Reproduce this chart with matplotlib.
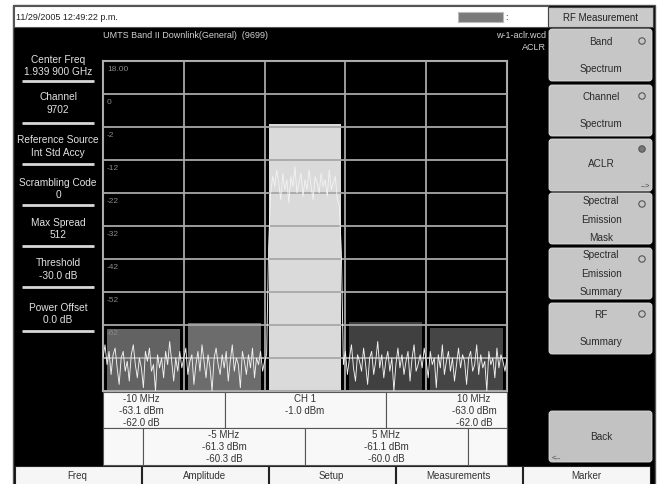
import numpy as np
import matplotlib
matplotlib.use("Agg")
import matplotlib.pyplot as plt
from matplotlib.patches import Rectangle, FancyBboxPatch, Circle

plt.rcParams['font.family'] = ['Liberation Sans', 'DejaVu Sans']

# ---------------- data ----------------
channel_labels = ["-10 MHz", "-5 MHz", "CH 1", "5 MHz", "10 MHz"]
channel_offsets = [-10, -5, 0, 5, 10]
channel_power_dbm = [-63.1, -61.3, -1.0, -61.1, -63.0]
channel_rel_db = [-62.0, -60.3, None, -60.0, -62.0]
bar_colors = ["#626262", "#6c6c6c", "#dadada", "#404040", "#454545"]

y_ticks = [18, 8, -2, -12, -22, -32, -42, -52, -62, -72, -82]
y_tick_labels = ["18.00", "0", "-2", "-12", "-22", "-32", "-42", "-52", "-62", "", ""]

trace_left = [-72, -68, -74, -70, -77, -71, -69, -75, -80, -72, -70, -76, -73, -79, -71, -68, -74, -78, -72, -75,
              -81, -70, -73, -69, -76, -74, -82, -71, -75, -72, -78, -70, -74, -67, -73, -79, -72, -76, -70, -75,
              -72, -69, -77, -73, -71, -80, -74, -70, -76, -68, -73, -78, -71, -75, -82, -72, -69, -74, -77, -71,
              -75, -70, -79, -73, -68, -76, -72, -74, -81, -70, -73, -77, -71, -75, -69, -78, -72, -74, -70, -76,
              -73, -71]
trace_center = [-38, -22, -17, -20, -15, -19, -24, -16, -21, -18, -25, -17, -20, -14, -22, -19, -16, -23, -18, -21,
                -15, -20, -24, -17, -19, -22, -16, -20, -18, -23, -15, -21, -19, -17, -24, -26, -40]
trace_right = [-74, -70, -77, -72, -68, -75, -79, -71, -73, -76, -69, -74, -80, -72, -70, -77, -73, -67, -75, -71,
               -78, -73, -70, -76, -72, -82, -74, -69, -75, -71, -77, -73, -70, -79, -72, -68, -76, -74, -71, -75,
               -69, -73, -78, -70, -74, -72, -81, -71, -75, -68, -77, -73, -70, -76, -72, -79, -74, -69, -75, -71,
               -73, -80, -72, -70, -76, -74, -68, -77, -71, -75, -73, -82, -70, -74, -72, -78, -69, -75, -71, -73,
               -76, -72]
trace_dbm = trace_left + trace_center + trace_right

span_mhz = (-12.5, 12.5)
bar_width_mhz = 4.5

left_items = [("Center Freq", "1.939 900 GHz"), ("Channel", "9702"),
              ("Reference Source", "Int Std Accy"), ("Scrambling Code", "0"),
              ("Max Spread", "512"), ("Threshold", "-30.0 dB"), ("Power Offset", "0.0 dB")]
menu_items = [["Band", "Spectrum"], ["Channel", "Spectrum"], ["ACLR"],
              ["Spectral", "Emission", "Mask"], ["Spectral", "Emission", "Summary"], ["RF", "Summary"]]
bottom_items = ["Freq", "Amplitude", "Setup", "Measurements", "Marker"]

# ---------------- figure ----------------
W, H = 659, 485
fig = plt.figure(figsize=(W / 100, H / 100), dpi=100, facecolor="white")
ui = fig.add_axes([0, 0, 1, 1])
ui.set_xlim(0, W)
ui.set_ylim(H, 0)
ui.axis("off")

# frame / backgrounds
ui.add_patch(Rectangle((13, 6), 642, 480, facecolor="black", edgecolor="#555555", lw=1))
ui.add_patch(Rectangle((14, 7), 534, 21, facecolor="white", edgecolor="#555555", lw=0.8))
ui.text(16, 18, "11/29/2005 12:49:22 p.m.", fontsize=6.5, color="#222222", va="center")
ui.add_patch(Rectangle((458, 13), 45, 10, facecolor="#7a7a7a", edgecolor="#bbbbbb", lw=0.8))
ui.text(505, 18, ":", fontsize=6.5, color="#333333", va="center")

# header texts
ui.text(103, 36, "UMTS Band II Downlink(General)  (9699)", fontsize=6.5, color="#d0d0d0", va="center")
ui.text(546, 36, "w-1-aclr.wcd", fontsize=6.5, color="#d0d0d0", va="center", ha="right")
ui.text(546, 48, "ACLR", fontsize=6.5, color="#d0d0d0", va="center", ha="right")

# left panel
l1 = [60, 97, 140, 183, 223, 263, 308]
l2 = [72, 110, 153, 195, 235, 276, 320]
sep = [82, 124, 165, 206, 247, 288, 332]
for (a, b), y1, y2, ys in zip(left_items, l1, l2, sep):
    ui.text(58, y1, a, fontsize=7.3, color="#e2e2e2", ha="center", va="center")
    ui.text(58, y2, b, fontsize=7.3, color="#e2e2e2", ha="center", va="center")
    ui.plot([22, 94], [ys, ys], color="#d8d8d8", lw=2, solid_capstyle="butt")

# right menu
ui.add_patch(Rectangle((548, 8), 105, 20, facecolor="#cacaca", edgecolor="#444444", lw=0.8))
ui.text(600.5, 18, "RF Measurement", fontsize=7, color="#222222", ha="center", va="center")
btn_y = [(30, 82), (86, 137), (140, 192), (194, 245), (249, 300), (304, 355)]
btn_text_y = [[42, 69], [97, 124], [164], [201, 220, 238], [255, 274, 292], [315, 342]]
radio_y = [42, 97, 150, 205, 260, 315]
for i, (items, (t, b), tys, ry) in enumerate(zip(menu_items, btn_y, btn_text_y, radio_y)):
    ui.add_patch(FancyBboxPatch((549, t), 103, b - t, boxstyle="round,pad=0,rounding_size=3",
                                facecolor="#c6c6c6", edgecolor="#e0e0e0", lw=0.6))
    for s, ty in zip(items, tys):
        ui.text(601, ty, s, fontsize=7.2, color="#2a2a2a", ha="center", va="center")
    filled = (items == ["ACLR"])
    ui.add_patch(Circle((642, ry), 3.2, facecolor="#777777" if filled else "none",
                        edgecolor="#555555", lw=0.8))
    if filled:
        ui.text(650, b - 6, "-->", fontsize=5.5, color="#444444", ha="right", va="center")
# back button
ui.add_patch(FancyBboxPatch((549, 412), 103, 51, boxstyle="round,pad=0,rounding_size=3",
                            facecolor="#c2c2c2", edgecolor="#dddddd", lw=0.6))
ui.text(601, 437, "Back", fontsize=7.2, color="#2a2a2a", ha="center", va="center")
ui.text(552, 458, "<--", fontsize=5.5, color="#444444", ha="left", va="center")

# bottom buttons
edges = [14, 141, 268, 395, 522, 650]
for i, lab in enumerate(bottom_items):
    ui.add_patch(Rectangle((edges[i] + 0.5, 466.5), edges[i + 1] - edges[i] - 1, 20,
                           facecolor="#f6f6f6", edgecolor="#222222", lw=0.8))
    ui.text((edges[i] + edges[i + 1]) / 2, 476, lab, fontsize=7, color="#333333",
            ha="center", va="center")

# result table
row1 = (393, 429)
row2 = (429, 466)
for x0, x1 in [(103, 225), (225, 386), (386, 507)]:
    ui.add_patch(Rectangle((x0, row1[0]), x1 - x0, row1[1] - row1[0], facecolor="#f8f8f8",
                           edgecolor="#555555", lw=0.8))
for x0, x1 in [(103, 143), (143, 305), (305, 468), (468, 507)]:
    ui.add_patch(Rectangle((x0, row2[0]), x1 - x0, row2[1] - row2[0], facecolor="#f8f8f8",
                           edgecolor="#555555", lw=0.8))
text_x = {0: 141, 2: 305, 4: 474, 1: 224, 3: 386}
for i, lab in enumerate(channel_labels):
    lines = [lab, f"{channel_power_dbm[i]:.1f} dBm"]
    if channel_rel_db[i] is not None:
        lines.append(f"{channel_rel_db[i]:.1f} dB")
    ys = [399, 411, 423] if i in (0, 2, 4) else [435, 447, 459]
    for s, y in zip(lines, ys):
        ui.text(text_x[i], y, s, fontsize=7, color="#333333", ha="center", va="center")

# ---------------- spectrum plot ----------------
px0, px1, py0, py1 = 103, 507, 62, 392
ax = fig.add_axes([px0 / W, 1 - py1 / H, (px1 - px0) / W, (py1 - py0) / H])
ax.set_facecolor("black")
ymin, ymax = y_ticks[-1], y_ticks[0]
ax.set_xlim(*span_mhz)
ax.set_ylim(ymin, ymax)
heights = [p - ymin for p in channel_power_dbm]
ax.bar(channel_offsets, heights, bottom=ymin, width=bar_width_mhz, color=bar_colors, zorder=1)
ax.set_xticks(np.arange(span_mhz[0], span_mhz[1] + 0.1, 5))
ax.set_yticks(y_ticks)
ax.set_axisbelow(False)
ax.grid(True, color="#a8a8a8", lw=1.3, zorder=2)
ax.tick_params(length=0, labelbottom=False, labelleft=False)
for sp in ax.spines.values():
    sp.set_color("#b0b0b0")
    sp.set_linewidth(1.5)
freq = np.linspace(span_mhz[0], span_mhz[1], len(trace_dbm))
ax.plot(freq, trace_dbm, color="#f2f2f2", lw=0.65, zorder=3)
for v, lab in zip(y_ticks, y_tick_labels):
    if lab:
        ax.text(span_mhz[0] + 0.25, v - 1.2, lab, fontsize=6, color="#8a8a8a",
                ha="left", va="top", zorder=4)

fig.savefig("out.png", dpi=100, facecolor="white")
